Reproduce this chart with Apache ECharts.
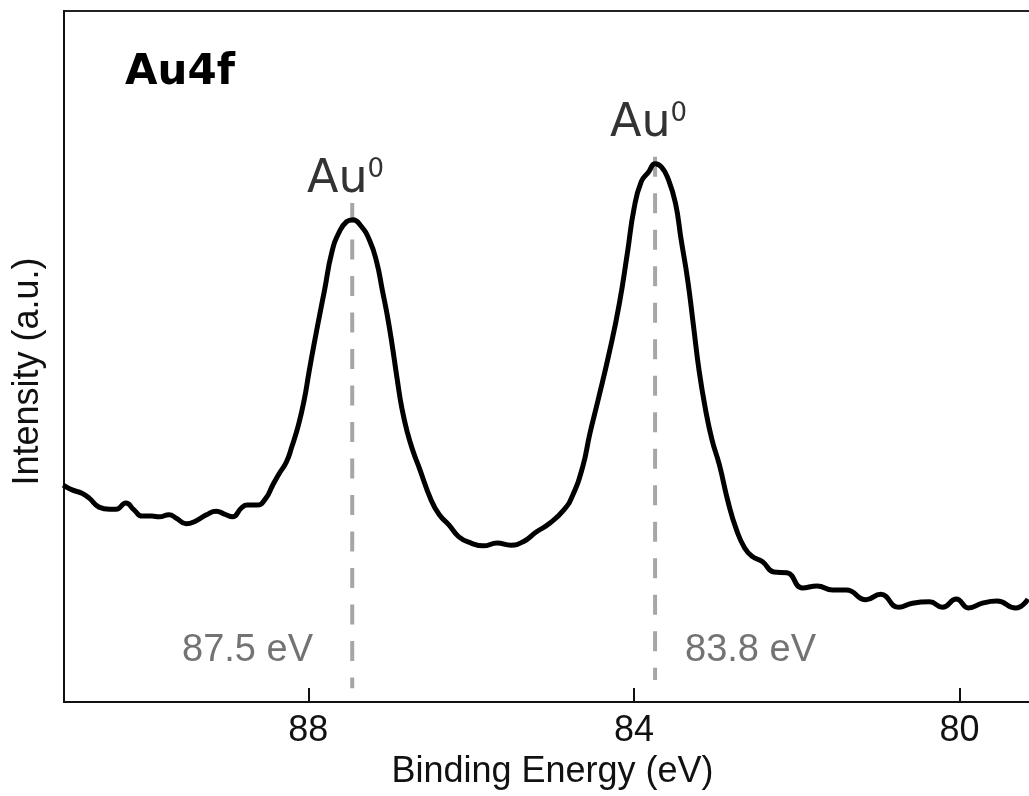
<!DOCTYPE html>
<html>
<head>
<meta charset="utf-8">
<title>Au4f XPS</title>
<script src="https://cdn.jsdelivr.net/npm/echarts@6/dist/echarts.min.js"></script>
<style>
  html, body { margin: 0; padding: 0; background: #fff; }
  #main { width: 1029px; height: 796px; }
</style>
</head>
<body>
<div id="main"></div>
<script>
// binding energy (eV) and intensity (a.u., 0-100 across the frame)
var energy = [
  91.01, 90.90, 90.78, 90.69, 90.57, 90.44, 90.36, 90.24, 90.14, 90.04,
  89.92, 89.83, 89.71, 89.62, 89.50, 89.38, 89.25, 89.13, 89.03, 88.93,
  88.82, 88.75, 88.63, 88.52, 88.44, 88.36, 88.27, 88.20, 88.12, 88.05,
  87.99, 87.93, 87.86, 87.80, 87.71, 87.62, 87.53, 87.45, 87.36, 87.25,
  87.16, 87.09, 87.03, 86.97, 86.91, 86.85, 86.78, 86.71, 86.64, 86.49,
  86.39, 86.27, 86.15, 86.00, 85.85, 85.68, 85.51, 85.36, 85.20, 85.03,
  84.86, 84.76, 84.63, 84.54, 84.44, 84.30, 84.18, 84.08, 84.00, 83.91,
  83.82, 83.74, 83.66, 83.58, 83.49, 83.42, 83.34, 83.27, 83.20, 83.12,
  83.04, 82.95, 82.84, 82.74, 82.64, 82.55, 82.42, 82.28, 82.12, 81.93,
  81.75, 81.56, 81.39, 81.15, 80.97, 80.75, 80.58, 80.37, 80.21, 80.04,
  79.89, 79.72, 79.54, 79.31, 79.16
];
var intensity = [
  31.4, 30.7, 30.2, 29.5, 28.2, 27.9, 27.9, 28.8, 27.8, 26.9,
  26.9, 26.8, 27.1, 26.6, 25.8, 26.2, 27.1, 27.6, 27.2, 26.8,
  28.1, 28.5, 28.5, 29.5, 31.3, 33.0, 34.7, 37.0, 40.1, 43.7,
  47.8, 51.7, 56.0, 59.6, 65.1, 68.0, 69.5, 69.8, 69.0, 66.9,
  63.7, 59.6, 56.0, 51.7, 46.9, 42.5, 38.9, 36.2, 34.0, 29.2,
  27.1, 25.6, 23.9, 23.0, 22.6, 23.0, 22.7, 23.2, 24.6, 25.9,
  27.8, 29.7, 34.0, 38.9, 43.7, 50.7, 57.6, 65.0, 71.3, 75.3,
  76.7, 77.9, 77.4, 75.7, 72.2, 66.9, 61.1, 54.6, 48.0, 42.3,
  37.9, 34.3, 28.8, 24.9, 22.3, 21.1, 20.3, 18.8, 18.7, 16.5,
  16.8, 16.2, 16.2, 14.8, 15.6, 13.7, 14.3, 14.5, 13.7, 14.9,
  13.6, 14.3, 14.6, 13.6, 14.9
];

var tickValues = [80, 84, 88];
var peakEnergy = [87.46, 83.74];
var peakTop = [72.2, 78.9];
var peakBottom = [2.0, 3.2];
var peakTexts = ['87.5 eV', '83.8 eV'];

var chart = echarts.init(document.getElementById('main'));

var curve = [];
for (var i = 0; i < energy.length; i++) {
  curve.push([energy[i], intensity[i]]);
}

var series = [{
  type: 'line',
  data: curve,
  showSymbol: false,
  smooth: 0.5,
  lineStyle: { color: '#000', width: 5, join: 'round' },
  z: 3
}];
for (var k = 0; k < peakEnergy.length; k++) {
  series.push({
    type: 'line',
    data: [[peakEnergy[k], peakTop[k]], [peakEnergy[k], peakBottom[k]]],
    showSymbol: false,
    silent: true,
    lineStyle: { color: '#a6a6a6', width: 4, type: [20, 16.5] },
    z: 2
  });
}

var labelFont = 'Liberation Sans, Arial, sans-serif';
// Au with superscript 0
var auStyle = {
  text: '{a|Au}{s|0}',
  rich: {
    a: { fontFamily: 'DejaVu Sans', fontSize: 46, fill: '#333' },
    s: { fontFamily: 'DejaVu Sans', fontSize: 26, fill: '#333', verticalAlign: 'top' }
  },
  align: 'left',
  verticalAlign: 'middle'
};

var option = {
  animation: false,
  backgroundColor: '#fff',
  grid: {
    left: 64,
    top: 11,
    bottom: 94,
    width: 977,
    outerBoundsMode: 'none',
    show: true,
    borderColor: '#222',
    borderWidth: 2
  },
  xAxis: {
    type: 'value',
    inverse: true,
    min: 79,
    max: 91,
    name: 'Binding Energy (eV)',
    nameLocation: 'middle',
    nameGap: 47,
    nameTextStyle: { fontFamily: labelFont, fontSize: 36, color: '#111' },
    axisLine: { lineStyle: { color: '#111', width: 2 } },
    axisTick: { inside: true, length: 14, customValues: tickValues, lineStyle: { color: '#111', width: 2 } },
    axisLabel: { customValues: tickValues, margin: 11, fontFamily: labelFont, fontSize: 36, color: '#111' },
    splitLine: { show: false }
  },
  yAxis: {
    type: 'value',
    min: 0,
    max: 100,
    name: 'Intensity (a.u.)',
    nameLocation: 'middle',
    nameGap: 18,
    nameTextStyle: { fontFamily: labelFont, fontSize: 36, color: '#111', padding: [0, 30, 0, 0] },
    axisLine: { show: true, lineStyle: { color: '#111', width: 2 } },
    axisTick: { show: false },
    axisLabel: { show: false },
    splitLine: { show: false }
  },
  graphic: [
    { type: 'text', x: 125, y: 73, style: { text: 'Au4f', fontFamily: 'DejaVu Sans', fontWeight: 'bold', fontSize: 42, fill: '#000', align: 'left', verticalAlign: 'middle' } },
    { type: 'text', x: 307, y: 180, style: auStyle },
    { type: 'text', x: 610, y: 124, style: auStyle },
    { type: 'text', x: 182, y: 651, style: { text: peakTexts[0], fontFamily: labelFont, fontSize: 38, fill: '#737373', align: 'left', verticalAlign: 'middle' } },
    { type: 'text', x: 685, y: 651, style: { text: peakTexts[1], fontFamily: labelFont, fontSize: 38, fill: '#737373', align: 'left', verticalAlign: 'middle' } }
  ],
  series: series
};

chart.setOption(option);
window.onresize = function() {
  chart.resize();
};
</script>
</body>
</html>
